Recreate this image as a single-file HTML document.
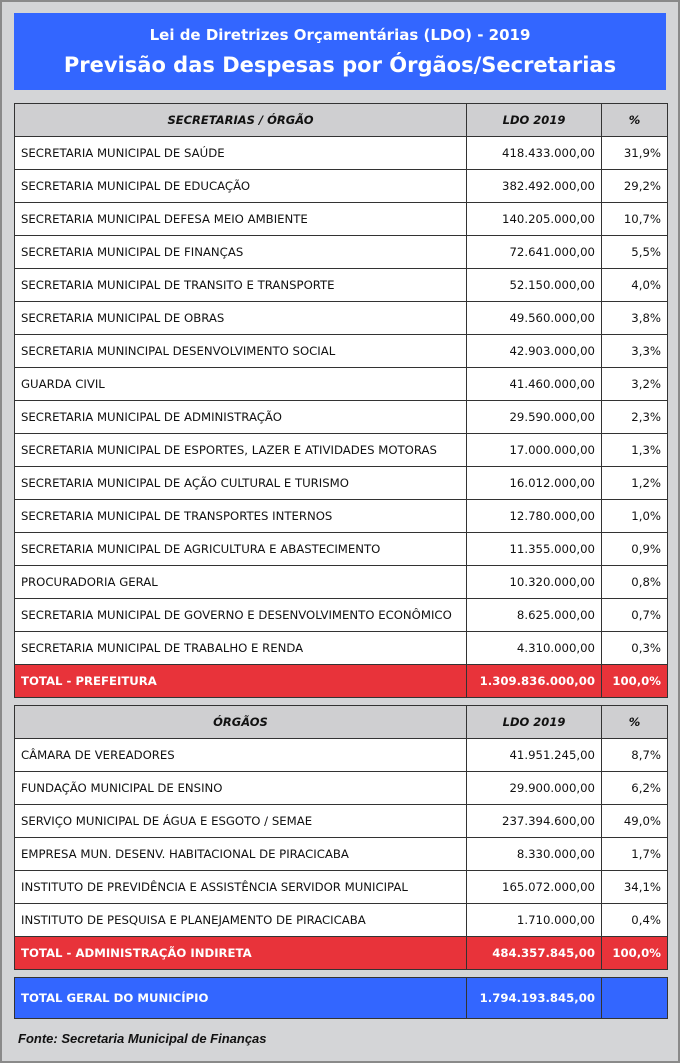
<!DOCTYPE html>
<html><head><meta charset="utf-8"><style>
*{margin:0;padding:0;box-sizing:border-box}
body{width:680px;height:1063px;background:#d4d5d7;font-family:"DejaVu Sans","Liberation Sans",sans-serif;position:relative;overflow:hidden}
.frame{position:absolute;left:0;top:0;width:680px;height:1063px;border:2px solid #8a8a8a}
.hdr{position:absolute;left:14px;top:13px;width:652px;height:77px;background:#3366ff;color:#fff;text-align:center;font-weight:bold}
.hdr .a{position:absolute;top:13px;width:100%;font-size:15px}
.hdr .b{position:absolute;top:40px;width:100%;font-size:21px}
table{position:absolute;left:14px;width:653px;border-collapse:collapse;table-layout:fixed;font-size:11.7px}
td{border:1px solid #333;height:33px;padding:0 6px;background:#fff;color:#111;white-space:nowrap;overflow:hidden}
td.n{text-align:right}
tr.h td{background:#cfcfd1;font-weight:bold;font-style:italic;text-align:center;font-size:11.5px}
tr.t td{background:#e8333a;color:#fff;font-weight:bold}
tr.g td{background:#3366ff;color:#fff;font-weight:bold;height:41px}
.fonte{position:absolute;left:18px;top:1031px;font-family:"Liberation Sans",sans-serif;font-weight:bold;font-style:italic;font-size:13px;color:#111}
</style></head><body>
<div class="frame"></div>
<div class="hdr"><div class="a">Lei de Diretrizes Orçamentárias (LDO) - 2019</div><div class="b">Previsão das Despesas por Órgãos/Secretarias</div></div>
<table style="top:103px"><colgroup><col style="width:452px"><col style="width:135px"><col style="width:66px"></colgroup>
<tr class="h"><td>SECRETARIAS / ÓRGÃO</td><td>LDO 2019</td><td>%</td></tr>
<tr><td>SECRETARIA MUNICIPAL DE SAÚDE</td><td class="n">418.433.000,00</td><td class="n">31,9%</td></tr>
<tr><td>SECRETARIA MUNICIPAL DE EDUCAÇÃO</td><td class="n">382.492.000,00</td><td class="n">29,2%</td></tr>
<tr><td>SECRETARIA MUNICIPAL DEFESA MEIO AMBIENTE</td><td class="n">140.205.000,00</td><td class="n">10,7%</td></tr>
<tr><td>SECRETARIA MUNICIPAL DE FINANÇAS</td><td class="n">72.641.000,00</td><td class="n">5,5%</td></tr>
<tr><td>SECRETARIA MUNICIPAL DE TRANSITO E TRANSPORTE</td><td class="n">52.150.000,00</td><td class="n">4,0%</td></tr>
<tr><td>SECRETARIA MUNICIPAL DE OBRAS</td><td class="n">49.560.000,00</td><td class="n">3,8%</td></tr>
<tr><td>SECRETARIA MUNINCIPAL DESENVOLVIMENTO SOCIAL</td><td class="n">42.903.000,00</td><td class="n">3,3%</td></tr>
<tr><td>GUARDA CIVIL</td><td class="n">41.460.000,00</td><td class="n">3,2%</td></tr>
<tr><td>SECRETARIA MUNICIPAL DE ADMINISTRAÇÃO</td><td class="n">29.590.000,00</td><td class="n">2,3%</td></tr>
<tr><td>SECRETARIA MUNICIPAL DE ESPORTES, LAZER E ATIVIDADES MOTORAS</td><td class="n">17.000.000,00</td><td class="n">1,3%</td></tr>
<tr><td>SECRETARIA MUNICIPAL DE AÇÃO CULTURAL E TURISMO</td><td class="n">16.012.000,00</td><td class="n">1,2%</td></tr>
<tr><td>SECRETARIA MUNICIPAL DE TRANSPORTES INTERNOS</td><td class="n">12.780.000,00</td><td class="n">1,0%</td></tr>
<tr><td>SECRETARIA MUNICIPAL DE AGRICULTURA E ABASTECIMENTO</td><td class="n">11.355.000,00</td><td class="n">0,9%</td></tr>
<tr><td>PROCURADORIA GERAL</td><td class="n">10.320.000,00</td><td class="n">0,8%</td></tr>
<tr><td>SECRETARIA MUNICIPAL DE GOVERNO E DESENVOLVIMENTO ECONÔMICO</td><td class="n">8.625.000,00</td><td class="n">0,7%</td></tr>
<tr><td>SECRETARIA MUNICIPAL DE TRABALHO E RENDA</td><td class="n">4.310.000,00</td><td class="n">0,3%</td></tr>
<tr class="t"><td>TOTAL - PREFEITURA</td><td class="n">1.309.836.000,00</td><td class="n">100,0%</td></tr>
</table>
<table style="top:705px"><colgroup><col style="width:452px"><col style="width:135px"><col style="width:66px"></colgroup>
<tr class="h"><td>ÓRGÃOS</td><td>LDO 2019</td><td>%</td></tr>
<tr><td>CÂMARA DE VEREADORES</td><td class="n">41.951.245,00</td><td class="n">8,7%</td></tr>
<tr><td>FUNDAÇÃO MUNICIPAL DE ENSINO</td><td class="n">29.900.000,00</td><td class="n">6,2%</td></tr>
<tr><td>SERVIÇO MUNICIPAL DE ÁGUA E ESGOTO / SEMAE</td><td class="n">237.394.600,00</td><td class="n">49,0%</td></tr>
<tr><td>EMPRESA MUN. DESENV. HABITACIONAL DE PIRACICABA</td><td class="n">8.330.000,00</td><td class="n">1,7%</td></tr>
<tr><td>INSTITUTO DE PREVIDÊNCIA E ASSISTÊNCIA SERVIDOR MUNICIPAL</td><td class="n">165.072.000,00</td><td class="n">34,1%</td></tr>
<tr><td>INSTITUTO DE PESQUISA E PLANEJAMENTO DE PIRACICABA</td><td class="n">1.710.000,00</td><td class="n">0,4%</td></tr>
<tr class="t"><td>TOTAL - ADMINISTRAÇÃO INDIRETA</td><td class="n">484.357.845,00</td><td class="n">100,0%</td></tr>
</table>
<table style="top:977px"><colgroup><col style="width:452px"><col style="width:135px"><col style="width:66px"></colgroup>
<tr class="g"><td>TOTAL GERAL DO MUNICÍPIO</td><td class="n">1.794.193.845,00</td><td></td></tr>
</table>
<div class="fonte">Fonte: Secretaria Municipal de Finanças</div>
</body></html>
